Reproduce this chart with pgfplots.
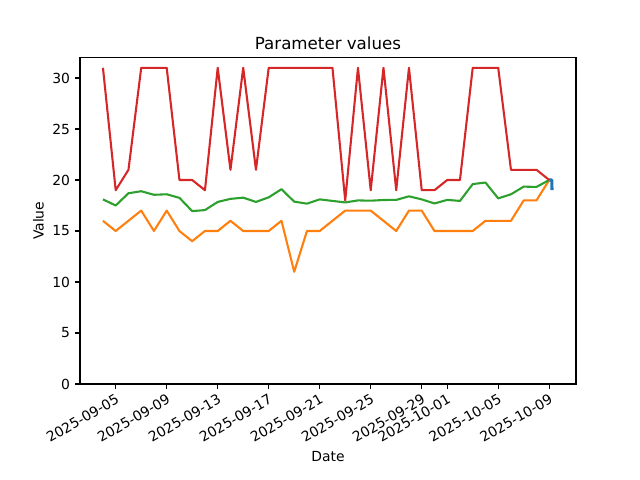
\documentclass[border=0pt]{standalone}
\usepackage{fontspec}
\setmainfont{DejaVu Sans}
\usepackage{pgfplots}
\usepackage{pgfplotstable}
\pgfplotsset{compat=1.18}
\definecolor{c0}{HTML}{1F77B4}
\definecolor{c1}{HTML}{FF7F0E}
\definecolor{c2}{HTML}{2CA02C}
\definecolor{c3}{HTML}{D62728}
\pgfplotstableread{
d v
4 16
5 15
6 16
7 17
8 15
9 17
10 15
11 14
12 15
13 15
14 16
15 15
16 15
17 15
18 16
19 11
20 15
21 15
22 16
23 17
24 17
25 17
26 16
27 15
28 17
29 17
30 15
31 15
32 15
33 15
34 16
35 16
36 16
37 18
38 18
39 20
}\orange
\pgfplotstableread{
d v
4 18.1
5 17.5
6 18.7
7 18.9
8 18.55
9 18.6
10 18.25
11 16.95
12 17.05
13 17.85
14 18.15
15 18.27
16 17.85
17 18.3
18 19.1
19 17.88
20 17.68
21 18.1
22 17.95
23 17.8
24 18.0
25 17.97
26 18.04
27 18.05
28 18.4
29 18.1
30 17.7
31 18.05
32 17.95
33 19.6
34 19.75
35 18.2
36 18.6
37 19.35
38 19.32
39 20
}\green
\pgfplotstableread{
d v
4 31
5 19
6 21
7 31
8 31
9 31
10 20
11 20
12 19
13 31
14 21
15 31
16 21
17 31
18 31
19 31
20 31
21 31
22 31
23 18
24 31
25 19
26 31
27 19
28 31
29 19
30 19
31 20
32 20
33 31
34 31
35 31
36 21
37 21
38 21
39 20
}\red
\pgfplotstableread{
d v
39 20
39.2 20
39.22 19
}\blue
\begin{document}
\begin{tikzpicture}
\path[use as bounding box] (-57.6bp,-69.12bp) rectangle (403.2bp,276.48bp);
\begin{axis}[
  at={(0,0)}, anchor=south west,
  scale only axis, width=357.12bp, height=235.01bp,
  xmin=2.2, xmax=41.1, ymin=0, ymax=32,
  xtick={5,9,13,17,21,25,29,31,35,39},
  xticklabels={2025-09-05,2025-09-09,2025-09-13,2025-09-17,2025-09-21,2025-09-25,2025-09-29,2025-10-01,2025-10-05,2025-10-09},
  ytick={0,5,10,15,20,25,30},
  tick pos=left,
  tick align=outside,
  major tick length=3.5bp,
  every tick/.style={black, line width=0.8bp},
  axis line style={line width=0.8bp},
  font=\fontsize{10bp}{12bp}\selectfont,
  /pgf/number format/assume math mode=true,
  xticklabel style={rotate=30, anchor=north east, inner sep=0pt, xshift=-2bp, yshift=-2.5bp},
  yticklabel style={anchor=east, inner sep=0pt, xshift=-3.5bp},
  xlabel={Date},
  ylabel={Value},
  xlabel style={at={(axis description cs:0.5,0)}, anchor=center, yshift=-52.5bp},
  ylabel style={at={(axis description cs:0,0.5)}, anchor=center, yshift=30bp},
  title={Parameter values},
  title style={font=\fontsize{12bp}{14bp}\selectfont, at={(axis description cs:0.5,1)}, anchor=base, yshift=0bp},
  every axis plot/.append style={line width=1.5bp, line join=round},
]
\addplot[c0, no marks, line width=2.2bp] table[x=d, y=v] {\blue};
\addplot[c1, no marks] table[x=d, y=v] {\orange};
\addplot[c2, no marks] table[x=d, y=v] {\green};
\addplot[c3, no marks] table[x=d, y=v] {\red};
\end{axis}
\end{tikzpicture}
\end{document}
